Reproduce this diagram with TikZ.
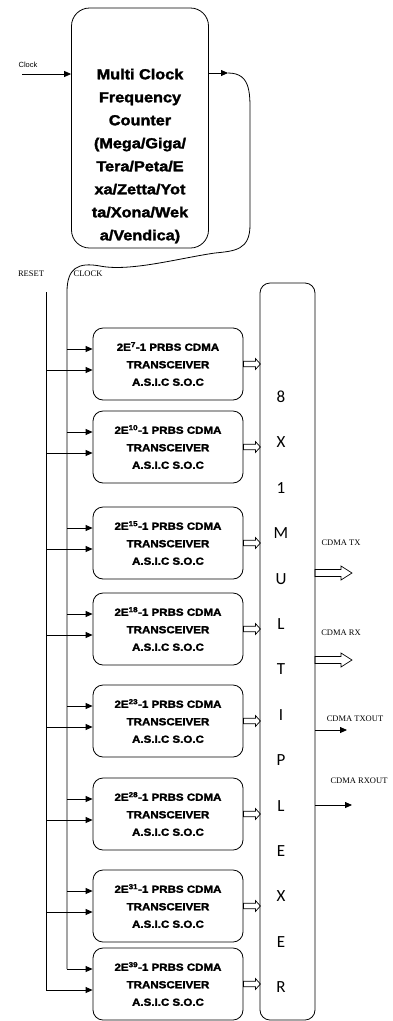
\documentclass[tikz,border=0pt]{standalone}
\usepackage{fontspec}
\setmainfont{Liberation Sans}
\newfontfamily\heavyfont{Liberation Sans}[BoldFeatures={FakeBold=2,FakeStretch=1.12}]
\newfontfamily\serifsmall{Liberation Serif}
\newfontfamily\muxfont{Carlito}
\usetikzlibrary{arrows.meta}
\newcommand\hollowarrow[5]{%
  \draw[line width=0.7pt] #1 ++(0,-#3) -- ++(#2-#5,0) -- ++(0,-#4+#3) -- ++(#5,#4) -- ++(-#5,#4) -- ++(0,-#4+#3) -- ++(-#2+#5,0) -- cycle;}
\begin{document}
\begin{tikzpicture}[x=1pt,y=-1pt,
  ln/.style={line width=0.8pt},
  arr/.style={-{Triangle[length=7pt,width=6pt]}, line width=0.8pt},
  box/.style={draw, line width=0.8pt, rounded corners=10pt, minimum width=150pt, minimum height=72pt, inner sep=0pt, align=center, font=\heavyfont\bfseries\fontsize{10.3}{17.5}\selectfont},
  lbl/.style={font=\serifsmall\fontsize{8.5}{9}\selectfont, inner sep=0pt},
  muxl/.style={font=\muxfont\fontsize{17}{17}\selectfont, inner sep=0pt}]
\fill[white] (0,0) rectangle (393,1021);
\useasboundingbox (0,0) rectangle (393,1021);

% counter
\node[draw, ln, rounded corners=18pt, minimum width=137pt, minimum height=240pt] (cnt) at (140,128) {};
\node[align=center, inner sep=0pt, font=\heavyfont\bfseries\fontsize{14.5}{23}\selectfont] (cnttxt) at (140,156) {Multi Clock\\Frequency\\Counter\\(Mega/Giga/\\Tera/Peta/E\\xa/Zetta/Yot\\ta/Xona/Wek\\a/Vendica)};
\node[font=\fontsize{7.5}{8}\selectfont, inner sep=0pt] (clklbl) at (28,65) {Clock};
\coordinate (clkin) at (22,74);
\draw[arr] (clkin) -- (clkin -| cnt.west);
\coordinate (co) at (228,73);
\draw[arr] (cnt.east |- co) -- (co);

% bus coordinates
\coordinate (clkx) at (67,0);
\coordinate (rstx) at (46,0);
\node[lbl] (rstlbl) at (31,274) {RESET};
\node[lbl] (clklbl2) at (88,274) {CLOCK};

% transceivers
\foreach \i/\y/\e in {1/364/7, 2/447/10, 3/543/15, 4/629/18, 5/721/23, 6/814/28, 7/906/31, 8/984/39} {
  \node[box] (b\i) at (168,\y) {2E\textsuperscript{\e}-1 PRBS CDMA\\TRANSCEIVER\\A.S.I.C S.O.C};
  \draw[arr] ([yshift=15pt]b\i.west -| clkx) -- ([yshift=15pt]b\i.west);
  \draw[arr] ([yshift=-6pt]b\i.west -| rstx) -- ([yshift=-6pt]b\i.west);
  \hollowarrow{(b\i.east)}{17}{2.8}{5.5}{5}
}

% clock loop and bus
\draw[ln] (co) .. controls (252,73) and (250,95) .. (250,120) -- (250,225)
  .. controls (250,250) and (235,251) .. (215,253)
  .. controls (180,258) and (130,272) .. (100,266)
  .. controls (78,262) and (67,268) .. (67,292)
  -- ([yshift=15pt]b8.west -| clkx);
% reset bus
\coordinate (rtop) at (46,292);
\draw[ln] (rtop) -- ([yshift=-6pt]b8.west -| rstx);

% multiplexer
\node[draw, ln, rounded corners=10pt, minimum width=55pt, minimum height=737pt, inner sep=0pt] (mux) at (287.5,651.5) {};
\foreach \l [count=\k from 0] in {8,X,1,M,U,L,T,I,P,L,E,X,E,R}
  \node[muxl] (m\k) at (281,{397+45.4*\k}) {\l};

% outputs
\node[lbl] (txl) at (341,543) {CDMA TX};
\coordinate (txa) at (315,573);
\hollowarrow{(txa)}{37}{3.5}{7}{11}
\node[lbl] (rxl) at (341,633) {CDMA RX};
\coordinate (rxa) at (315,660);
\hollowarrow{(rxa)}{37}{3.5}{7}{11}
\node[lbl] (txol) at (355,719) {CDMA TXOUT};
\coordinate (txo) at (347,730);
\draw[arr] (mux.east |- txo) -- (txo);
\node[lbl] (rxol) at (359,781) {CDMA RXOUT};
\coordinate (rxo) at (352,805);
\draw[arr] (mux.east |- rxo) -- (rxo);
\end{tikzpicture}
\end{document}
